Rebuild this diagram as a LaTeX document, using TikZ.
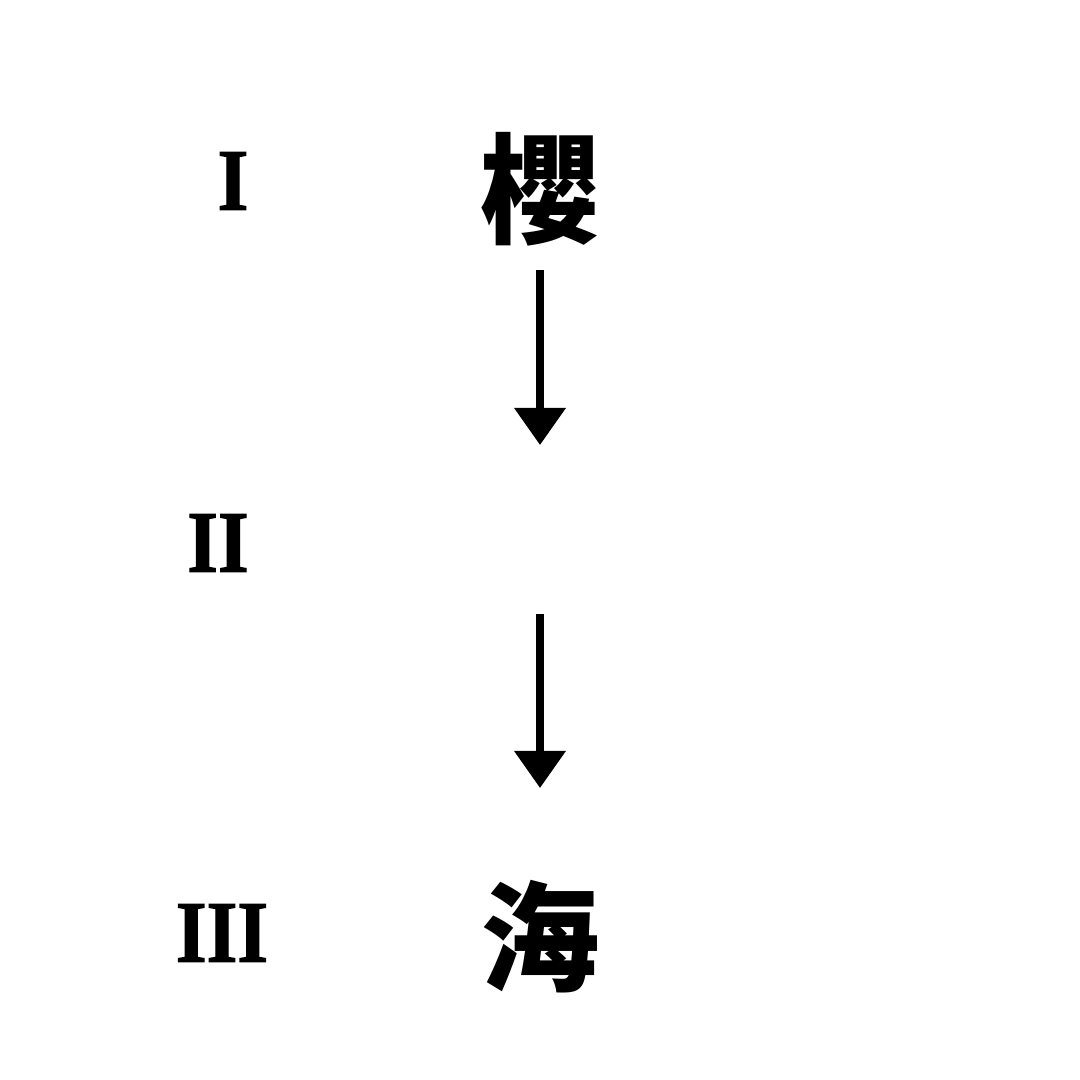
\documentclass[tikz,border=0pt]{standalone}
\usepackage{fontspec}
\setmainfont{Liberation Serif}
\newfontfamily\numfont{Liberation Serif}[UprightFont=* Bold, FakeBold=1.6]
\newfontfamily\cjk{Noto Sans CJK TC}
\usetikzlibrary{arrows.meta}
\begin{document}
\begin{tikzpicture}[x=1cm,y=1cm,
  numlabel/.style={font=\numfont\fontsize{25}{25}\selectfont, inner sep=0pt, anchor=center, xscale=0.9, transform shape},
  hanzi/.style={font=\cjk\fontsize{34}{34}\selectfont\bfseries, inner sep=0pt, anchor=center},
  arr/.style={line width=2pt, -{Triangle[width=0.5cm,length=0.37cm]}}]
\useasboundingbox (0,0) rectangle (10.8,10.8);
\node[numlabel] (n1) at (2.33,8.99) {I};
\node[numlabel] (n2) at (2.18,5.37) {II};
\node[numlabel] (n3) at (2.22,1.47) {III};
\node[hanzi] (k) at (5.40,8.91) {櫻};
\node[hanzi] (h) at (5.40,1.43) {海};
\coordinate (a1s) at (5.40,8.10);
\coordinate (a1e) at (5.40,6.35);
\coordinate (a2s) at (5.40,4.66);
\coordinate (a2e) at (5.40,2.92);
\draw[arr] (a1s) -- (a1e);
\draw[arr] (a2s) -- (a2e);
\end{tikzpicture}
\end{document}
